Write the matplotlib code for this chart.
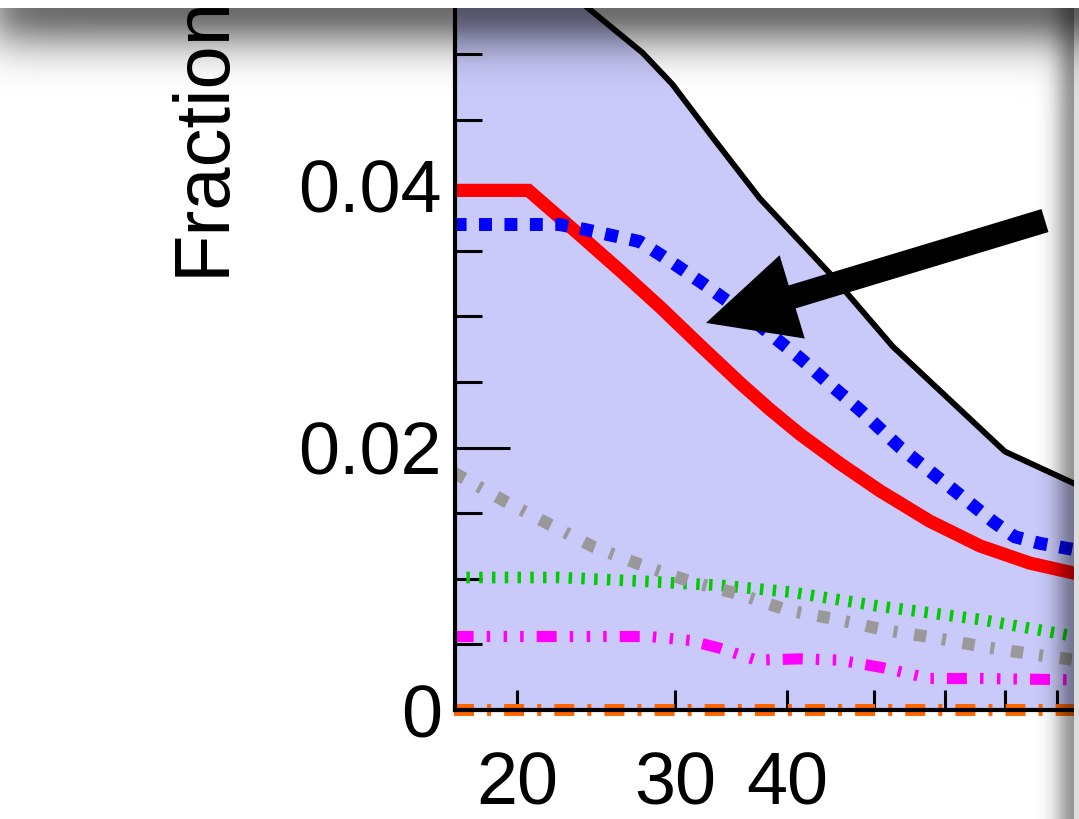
import matplotlib
matplotlib.use("Agg")
import matplotlib.pyplot as plt
import numpy as np
from matplotlib.patches import FancyArrowPatch, ArrowStyle
from matplotlib.ticker import FixedLocator, MultipleLocator, NullLocator

plt.rcParams["font.family"] = ["Liberation Sans", "DejaVu Sans"]
plt.rcParams["lines.scale_dashes"] = False

# envelope (top of the shaded area)
env_x = [17.0, 27.6, 29.8, 33.0, 37.3, 44.9, 52.5, 70.0, 84.0]
env_y = [0.0619, 0.0501, 0.0477, 0.0437, 0.0390, 0.0331, 0.0277, 0.0197, 0.0172]

red_x = [17.0, 20.6, 23.5, 26.05, 28.9, 32.0, 35.5, 38.3, 41.4, 45.8, 50.8, 57.7, 65.7, 74.6, 84.0]
red_y = [0.0396, 0.0396, 0.0362, 0.0335, 0.0307, 0.0278, 0.0249, 0.0229, 0.0210,
         0.0188, 0.0167, 0.0144, 0.0125, 0.0112, 0.0104]

blue_x = [17.0, 22.3, 23.9, 25.4, 27.4, 28.9, 30.4, 32.4, 34.6, 37.3, 41.4,
          44.7, 48.2, 53.5, 61.3, 68.1, 71.8, 76.6, 84.0]
blue_y = [0.0370, 0.0370, 0.0366, 0.0362, 0.0357, 0.0347, 0.0337, 0.0324, 0.0310,
          0.0293, 0.0268, 0.0248, 0.0229, 0.0200, 0.0168, 0.0143, 0.0132, 0.0127, 0.0122]

grey_x = [17.0, 19.4, 21.8, 24.4, 27.4, 31.2, 35.5, 40.1, 45.5, 51.4, 58.5, 66.5, 76.0, 84.0]
grey_y = [0.0181, 0.0159, 0.0141, 0.0124, 0.0111, 0.0098, 0.0088, 0.0076,
          0.0069, 0.0061, 0.0055, 0.0048, 0.0042, 0.0038]

green_x = [17.0, 22.3, 27.9, 33.7, 40.3, 50.8, 65.7, 84.0]
green_y = [0.0101, 0.0101, 0.0098, 0.0095, 0.0090, 0.0079, 0.0069, 0.0056]

mag_x = [17.0, 28.1, 31.2, 33.7, 37.0, 41.4, 45.8, 51.4, 57.7, 65.7, 84.0]
mag_y = [0.0056, 0.0056, 0.0053, 0.0047, 0.0038, 0.0039, 0.0038, 0.0032, 0.0024, 0.0024, 0.0023]

orange_x = [17.0, 84.0]
orange_y = [0.0, 0.0]

W, H = 1079, 819
fig = plt.figure(figsize=(W / 100, H / 100), dpi=100)
ax = fig.add_axes([455 / W, 109 / H, 619 / W, 702 / H])

ax.set_xscale("log")
ax.set_xlim(17.06, 83.6)
ax.set_ylim(0, 0.0535)

ax.fill_between(env_x, 0, env_y, color="#c9c9fa", lw=0, zorder=1)
ax.plot(env_x, env_y, color="black", lw=4.2, zorder=2)
ax.plot(red_x, red_y, color="red", lw=9.5, solid_joinstyle="miter", zorder=2)
ax.plot(blue_x, blue_y, color="blue", lw=9.3, ls=(0, (9.3, 9)), dash_capstyle="butt", zorder=2)
ax.plot(green_x, green_y, color="#00cc00", lw=8.4, ls=(0, (2.5, 6.7)), dash_capstyle="butt", zorder=2)
ax.plot(grey_x, grey_y, color="#999999", lw=8.8, ls=(0, (8.8, 11.5, 2.9, 12.2)),
        dash_capstyle="butt", zorder=2)
ax.plot(mag_x, mag_y, color="magenta", lw=8,
        ls=(0, (14.4, 9.4, 2.5, 9.7, 2.5, 9.4, 2.5, 9.4)), dash_capstyle="butt", zorder=2)
ax.plot(orange_x, orange_y, color="#ff6600", lw=8.6, ls=(0, (14.4, 9.4, 2.9, 9.4)),
        dash_capstyle="butt", clip_on=False, zorder=2)

# big arrow
arrow = FancyArrowPatch((77.6, 0.0373), (32.5, 0.0295),
                        arrowstyle=ArrowStyle.Simple(head_length=90, head_width=87, tail_width=24),
                        mutation_scale=0.72, shrinkA=0, shrinkB=0,
                        color="black", lw=0, zorder=5)
ax.add_patch(arrow)

for side in ["top", "right"]:
    ax.spines[side].set_visible(False)
for side in ["left", "bottom"]:
    ax.spines[side].set_linewidth(3)

ax.xaxis.set_major_locator(FixedLocator([20, 30, 40, 50, 60, 70, 80]))
ax.xaxis.set_minor_locator(NullLocator())
ax.set_xticklabels(["20", "30", "40", "", "", "", ""])
ax.yaxis.set_major_locator(FixedLocator([0, 0.02, 0.04]))
ax.yaxis.set_minor_locator(MultipleLocator(0.005))
ax.set_yticklabels(["0", "0.02", "0.04"])

ax.tick_params(axis="x", which="major", direction="in", length=14.4, width=2.2,
               labelsize=53, pad=29)
ax.tick_params(axis="y", which="major", direction="in", length=39.6, width=2.2,
               labelsize=53, pad=9.4)
ax.tick_params(axis="y", which="minor", direction="in", length=19.4, width=2.2)

fig.text(224 / W, (H - 276) / H, "Fraction", fontsize=56, rotation=90,
         rotation_mode="anchor", ha="left", va="baseline")

# window shadow along top and right edge
yy, xx = np.mgrid[0:H, 0:W].astype(float)
top = 0.58 * np.exp(-((yy - 8) / 40) ** 2) * 0.5 * (1 + np.tanh((xx + 7) / 25))
right = 0.42 * np.exp(-((1074 - xx) / 19) ** 2)
alpha = 1 - (1 - top) * (1 - right)
shade = np.zeros((H, W, 4))
shade[..., 3] = alpha
strip = xx >= 1074
shade[strip, 0:3] = (0.87 * (1 - top[strip]))[:, None]
shade[strip, 3] = 1
shade[yy < 8] = [1, 1, 1, 1]
fig.figimage(shade, xo=0, yo=0, origin="upper", zorder=10)

fig.savefig("out.png", dpi=100)
